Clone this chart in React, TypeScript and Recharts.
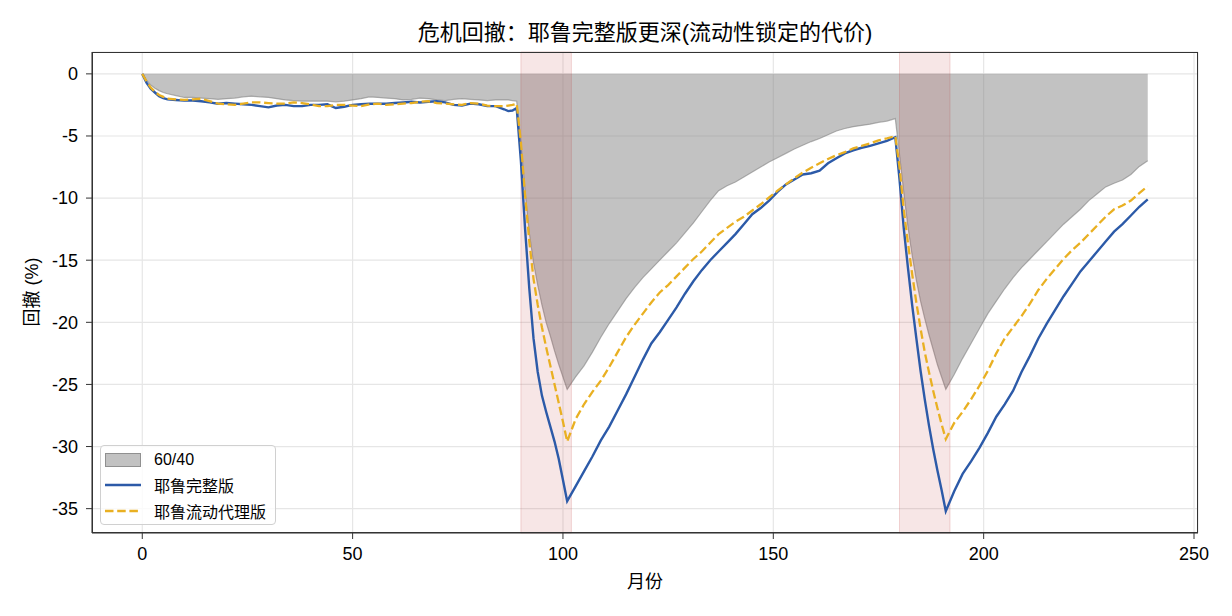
import { ComposedChart, Area, Line, XAxis, YAxis, CartesianGrid, ReferenceArea } from "recharts";

// month index (sampled denser around the two crises)
const months = [
  0, 1, 2, 3, 4, 5, 6, 8, 10, 12, 14, 16, 18, 20, 22, 24, 26, 28, 30, 32, 34, 36, 38, 40, 42, 44, 46, 48,
  50, 52, 54, 56, 58, 60, 62, 64, 66, 68, 70, 72, 74, 76, 78, 80, 82, 84, 86, 87, 88, 89,
  90, 91, 92, 93, 94, 95, 96, 97, 98, 99, 100, 101,
  103, 105, 107, 109, 111, 113, 115, 117, 119, 121, 123, 125, 127, 129, 131, 133, 135, 137, 139,
  141, 143, 145, 147, 149, 151, 153, 155, 157, 159, 161, 163, 165, 167, 169, 171, 173, 175, 177, 179,
  180, 181, 182, 183, 184, 185, 186, 187, 188, 189, 190, 191,
  193, 195, 197, 199, 201, 203, 205, 207, 209, 211, 213, 215, 217, 219, 221, 223, 225, 227, 229,
  231, 233, 235, 237, 239,
];

const dd6040 = [
  0, -0.5, -0.9, -1.15, -1.35, -1.5, -1.6, -1.75, -1.9, -1.9, -1.95, -2.0, -2.05, -2.0, -1.95, -1.85, -1.8, -1.85,
  -1.9, -2.0, -2.1, -2.15, -2.2, -2.2, -2.2, -2.2, -2.25, -2.2,
  -2.1, -2.0, -1.85, -1.9, -1.95, -2.0, -2.1, -2.05, -1.95, -2.0, -2.1, -2.15, -2.05, -2.0, -2.05, -2.1, -2.15,
  -2.1, -2.1, -2.1, -2.15, -2.2,
  -5.5, -9.5, -12.8, -15.2, -17.0, -18.6, -20.0, -21.1, -22.3, -23.4, -24.4, -25.4,
  -24.4, -23.5, -22.4, -21.2, -20.1, -19.1, -18.1, -17.2, -16.4, -15.7, -15.0, -14.3, -13.6, -12.8, -12.0,
  -11.1, -10.2, -9.4, -9.0,
  -8.7, -8.3, -7.9, -7.5, -7.1, -6.75, -6.4, -6.05, -5.75, -5.45, -5.2, -4.9, -4.6, -4.4, -4.25, -4.15, -4.05,
  -3.9, -3.8, -3.6,
  -6.5, -9.5, -12.3, -14.6, -16.6, -18.3, -19.7, -21.0, -22.2, -23.4, -24.4, -25.4,
  -24.2, -22.9, -21.7, -20.5, -19.3, -18.3, -17.3, -16.4, -15.6, -14.9, -14.2, -13.5, -12.8, -12.1, -11.5,
  -10.9, -10.2, -9.65, -9.1,
  -8.8, -8.55, -8.1, -7.45, -7.0,
];

const ddYaleFull = [
  0, -0.7, -1.2, -1.5, -1.8, -1.95, -2.05, -2.1, -2.15, -2.15, -2.2, -2.3, -2.4, -2.35, -2.4, -2.45, -2.5, -2.6,
  -2.7, -2.55, -2.5, -2.6, -2.6, -2.5, -2.5, -2.45, -2.75, -2.65,
  -2.5, -2.45, -2.4, -2.4, -2.4, -2.35, -2.3, -2.25, -2.3, -2.25, -2.2, -2.3, -2.5, -2.55, -2.4, -2.45, -2.6,
  -2.6, -2.85, -3.0, -2.95, -2.75,
  -7.0, -12.5, -17.3, -21.3, -24.0, -25.9, -27.2, -28.4, -29.6, -31.0, -32.7, -34.4,
  -33.2, -32.0, -30.8, -29.5, -28.4, -27.1, -25.8, -24.4, -23.0, -21.7, -20.8, -19.8, -18.8, -17.7, -16.7,
  -15.8, -15.0, -14.3, -13.6,
  -12.9, -12.1, -11.3, -10.8, -10.2, -9.5, -8.9, -8.5, -8.1, -8.0, -7.8, -7.2, -6.8, -6.4, -6.15, -5.95, -5.8,
  -5.6, -5.4, -5.1,
  -8.5, -12.4, -15.6, -18.6, -21.3, -23.9, -26.2, -28.3, -30.2, -31.9, -33.5, -35.2,
  -33.6, -32.2, -31.2, -30.1, -28.9, -27.6, -26.6, -25.5, -24.0, -22.7, -21.3, -20.1, -19.0, -17.9, -16.9,
  -15.9, -15.1, -14.3, -13.5,
  -12.7, -12.1, -11.4, -10.7, -10.1,
];

const ddYaleLiquid = [
  0, -0.6, -1.1, -1.45, -1.7, -1.85, -2.0, -2.05, -2.1, -2.05, -2.0, -2.2, -2.4, -2.45, -2.5, -2.4, -2.3, -2.3,
  -2.35, -2.4, -2.4, -2.3, -2.35, -2.45, -2.6, -2.6, -2.5, -2.5,
  -2.55, -2.6, -2.45, -2.4, -2.5, -2.45, -2.4, -2.35, -2.25, -2.2, -2.35, -2.4, -2.45, -2.5, -2.35, -2.4, -2.55,
  -2.6, -2.6, -2.55, -2.5, -2.4,
  -5.5, -9.8, -13.5, -16.5, -18.6, -20.4, -22.0, -23.5, -25.0, -26.5, -28.0, -29.6,
  -27.8, -26.6, -25.6, -24.7, -23.6, -22.4, -21.2, -20.2, -19.3, -18.4, -17.6, -17.0, -16.3, -15.6, -14.9,
  -14.3, -13.6, -12.9, -12.4,
  -11.9, -11.5, -11.0, -10.5, -9.95, -9.4, -8.9, -8.4, -7.95, -7.55, -7.2, -6.85, -6.55, -6.3, -6.0, -5.8, -5.6,
  -5.35, -5.2, -5.0,
  -7.5, -10.9, -13.6, -16.1, -18.4, -20.5, -22.4, -24.0, -25.5, -26.9, -28.2, -29.4,
  -28.1, -27.2, -26.2, -25.1, -23.9, -22.5, -21.3, -20.4, -19.5, -18.5, -17.4, -16.5, -15.7, -14.9, -14.2,
  -13.6, -12.9, -12.2, -11.5,
  -10.9, -10.6, -10.2, -9.6, -9.05,
];

const crisisWindows = [
  [90, 102],
  [180, 192],
];

const xTicks = [0, 50, 100, 150, 200, 250];
const yTicks = [0, -5, -10, -15, -20, -25, -30, -35];

const data = months.map((m, i) => ({
  month: m,
  p6040: dd6040[i],
  full: ddYaleFull[i],
  liquid: ddYaleLiquid[i],
}));

const FONT = '"Liberation Sans", Arial, "Noto Sans CJK SC", sans-serif';
const BLUE = "#2c5aa8";
const ORANGE = "#e9b022";

const PLOT = { left: 92, top: 52, width: 1106, height: 481 };

function LegendBox() {
  const row = { display: "flex", alignItems: "center", height: 25.5 } as const;
  return (
    <div
      style={{
        position: "absolute",
        left: 100,
        top: 445,
        width: 176,
        height: 80,
        border: "1px solid #d0d0d0",
        borderRadius: 4,
        background: "rgba(255,255,255,0.8)",
        boxSizing: "border-box",
        padding: "1px 0 0 4px",
        fontFamily: FONT,
        fontSize: 16,
        color: "#000",
      }}
    >
      <div style={row}>
        <svg width={49} height={14}>
          <rect x={0.5} y={0.5} width={35} height={13} fill="#808080" fillOpacity={0.48} stroke="#909090" />
        </svg>
        <span>60/40</span>
      </div>
      <div style={row}>
        <svg width={49} height={14}>
          <line x1={0} y1={7} x2={36} y2={7} stroke={BLUE} strokeWidth={2.4} />
        </svg>
        <span>耶鲁完整版</span>
      </div>
      <div style={row}>
        <svg width={49} height={14}>
          <line x1={0} y1={7} x2={36} y2={7} stroke={ORANGE} strokeWidth={2.4} strokeDasharray="8.5 3.7" />
        </svg>
        <span>耶鲁流动代理版</span>
      </div>
    </div>
  );
}

export default function App() {
  return (
    <div
      style={{
        position: "absolute",
        left: 0,
        top: 0,
        width: 1232,
        height: 616,
        background: "#fff",
        fontFamily: FONT,
      }}
    >
      <ComposedChart
        width={1232}
        height={616}
        data={data}
        margin={{ top: 52, right: 34, bottom: 53, left: 0 }}
      >
        <CartesianGrid stroke="#e6e6e6" strokeWidth={1.2} />
        <XAxis
          dataKey="month"
          type="number"
          domain={[-11.95, 250.95]}
          ticks={xTicks}
          allowDataOverflow
          height={30}
          tickSize={6}
          tickMargin={8}
          stroke="#333"
          tick={{ fill: "#000", fontSize: 18, fontFamily: FONT }}
          interval={0}
        />
        <YAxis
          type="number"
          domain={[-36.96, 1.76]}
          ticks={yTicks}
          allowDataOverflow
          width={92}
          tickSize={6}
          tickMargin={8}
          stroke="#333"
          tick={{ fill: "#000", fontSize: 18, fontFamily: FONT }}
          interval={0}
        />
        <Area
          type="linear"
          dataKey="p6040"
          baseValue={0}
          fill="#808080"
          fillOpacity={0.48}
          stroke="#808080"
          strokeOpacity={0.6}
          strokeWidth={1.2}
          dot={false}
          activeDot={false}
          isAnimationActive={false}
        />
        {crisisWindows.map(([a, b]) => (
          <ReferenceArea
            key={a}
            x1={a}
            x2={b}
            fill="#c03030"
            fillOpacity={0.12}
            stroke="#c03030"
            strokeOpacity={0.18}
          />
        ))}
        <Line
          type="linear"
          dataKey="full"
          stroke={BLUE}
          strokeWidth={2.4}
          dot={false}
          activeDot={false}
          isAnimationActive={false}
        />
        <Line
          type="linear"
          dataKey="liquid"
          stroke={ORANGE}
          strokeWidth={2.3}
          strokeDasharray="8.5 3.7"
          dot={false}
          activeDot={false}
          isAnimationActive={false}
        />
      </ComposedChart>

      {/* axes frame (top/right spines) */}
      <div
        style={{
          position: "absolute",
          left: PLOT.left,
          top: PLOT.top,
          width: PLOT.width,
          height: PLOT.height,
          border: "1.3px solid #333",
          boxSizing: "border-box",
          pointerEvents: "none",
        }}
      />

      <div
        style={{
          position: "absolute",
          left: PLOT.left,
          width: PLOT.width,
          top: 20,
          height: 26,
          lineHeight: "26px",
          textAlign: "center",
          fontSize: 22,
          color: "#000",
        }}
      >
        危机回撤：耶鲁完整版更深(流动性锁定的代价)
      </div>

      <div
        style={{
          position: "absolute",
          left: PLOT.left,
          width: PLOT.width,
          top: 570,
          height: 24,
          lineHeight: "24px",
          textAlign: "center",
          fontSize: 18,
          color: "#000",
        }}
      >
        月份
      </div>

      <div
        style={{
          position: "absolute",
          left: 32,
          top: 292,
          transform: "translate(-50%, -50%) rotate(-90deg)",
          whiteSpace: "nowrap",
          fontSize: 18,
          lineHeight: "20px",
          color: "#000",
        }}
      >
        回撤 (%)
      </div>

      <LegendBox />
    </div>
  );
}
